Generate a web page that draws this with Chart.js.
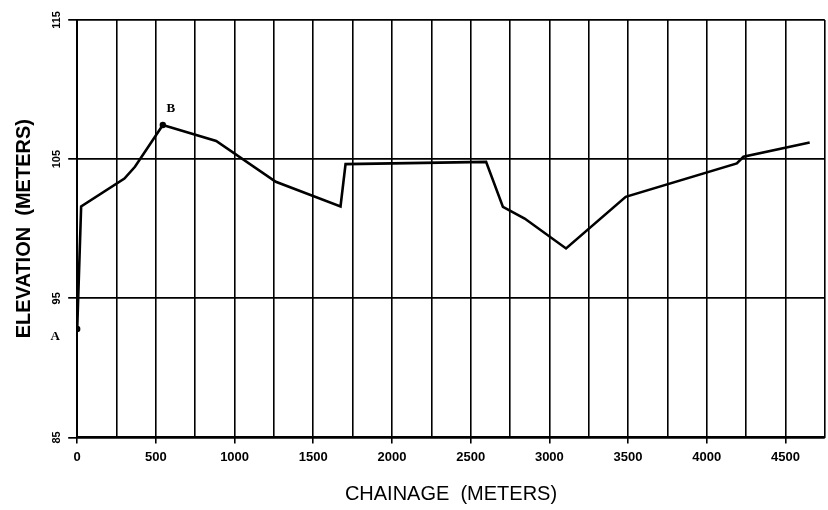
<!DOCTYPE html>
<html>
<head>
<meta charset="utf-8">
<script src="https://cdn.jsdelivr.net/npm/chart.js@4/dist/chart.umd.min.js"></script>
<style>
  html, body { margin: 0; padding: 0; background: #fff; }
  #wrap { width: 828px; height: 510px; }
</style>
</head>
<body>
<div id="wrap"><canvas id="c" width="828" height="510"></canvas></div>
<script>
// Chainage (m) of each profile vertex
const chainage = [0, 25, 300, 367, 544, 883, 1262, 1673, 1705, 2598, 2705, 2843, 3106, 3485, 4191, 4233, 4654];
// Elevation (m) at each vertex
const elevation = [92.8, 101.6, 103.6, 104.45, 107.45, 106.3, 103.37, 101.6, 104.64, 104.8, 101.57, 100.73, 98.58, 102.29, 104.69, 105.17, 106.2];
// Point labels (empty = no marker)
const pointLabels = ['A', '', '', '', 'B', '', '', '', '', '', '', '', '', '', '', '', ''];
// Axis settings
const xMin = 0, xMax = 4750, xGridStep = 250, xLabelStep = 500, xLastLabel = 4500;
const yMin = 85, yMax = 115, yStep = 10;
const xTitle = 'CHAINAGE  (METERS)';
const yTitle = 'ELEVATION  (METERS)';

const points = chainage.map((x, i) => ({ x: x, y: elevation[i] }));

const labelPlugin = {
  id: 'pointLabels',
  afterDatasetsDraw(chart) {
    const meta = chart.getDatasetMeta(0);
    const ctx = chart.ctx;
    ctx.save();
    ctx.fillStyle = '#000';
    ctx.font = 'bold 13px "Liberation Serif", serif';
    ctx.textAlign = 'center';
    ctx.textBaseline = 'middle';
    pointLabels.forEach((lab, i) => {
      if (!lab) return;
      const el = meta.data[i];
      if (lab === 'A') ctx.fillText(lab, el.x - 22, el.y + 8);
      else ctx.fillText(lab, el.x + 8, el.y - 16);
    });
    ctx.restore();
  }
};

new Chart(document.getElementById('c'), {
  type: 'line',
  data: {
    datasets: [{
      data: points,
      borderColor: '#000',
      borderWidth: 2.6,
      backgroundColor: '#000',
      pointRadius: (ctx) => pointLabels[ctx.dataIndex] ? 3.2 : 0,
      pointHoverRadius: 0,
      pointBorderWidth: 0,
      tension: 0,
      fill: false
    }]
  },
  options: {
    responsive: false,
    animation: false,
    devicePixelRatio: 1,
    layout: { padding: { top: 20, right: 0, bottom: 0, left: 0 } },
    plugins: { legend: { display: false }, tooltip: { enabled: false } },
    scales: {
      x: {
        type: 'linear',
        min: xMin,
        max: xMax,
        border: { color: '#000', width: 2 },
        grid: {
          color: '#000',
          lineWidth: 1.6,
          tickLength: 6,
          tickColor: (ctx) => (ctx.tick && ctx.tick.value % xLabelStep === 0) ? '#000' : 'rgba(0,0,0,0)'
        },
        ticks: {
          stepSize: xGridStep,
          autoSkip: false,
          maxRotation: 0,
          minRotation: 0,
          padding: 6,
          color: '#000',
          font: { family: '"Liberation Sans", Arial, sans-serif', size: 13, weight: 'bold' },
          callback: (v) => (v % xLabelStep === 0 && v <= xLastLabel) ? String(v) : ''
        },
        afterFit: (scale) => { scale.paddingRight = 0; },
        title: {
          display: true,
          text: xTitle,
          color: '#000',
          font: { family: '"Liberation Sans", Arial, sans-serif', size: 20, weight: 'normal' },
          padding: { top: 11, bottom: 4 }
        }
      },
      y: {
        type: 'linear',
        min: yMin,
        max: yMax,
        border: { color: '#000', width: 2 },
        grid: { color: '#000', lineWidth: 1.7, tickLength: 9, tickColor: '#000' },
        ticks: {
          stepSize: yStep,
          minRotation: 90,
          maxRotation: 90,
          crossAlign: 'center',
          padding: 2,
          color: '#000',
          font: { family: '"Liberation Sans", Arial, sans-serif', size: 11, weight: 'bold' }
        },
        title: {
          display: true,
          text: yTitle,
          color: '#000',
          font: { family: '"Liberation Sans", Arial, sans-serif', size: 20, weight: 'bold' },
          padding: { top: 12, bottom: 15 }
        }
      }
    }
  },
  plugins: [labelPlugin]
});
</script>
</body>
</html>
